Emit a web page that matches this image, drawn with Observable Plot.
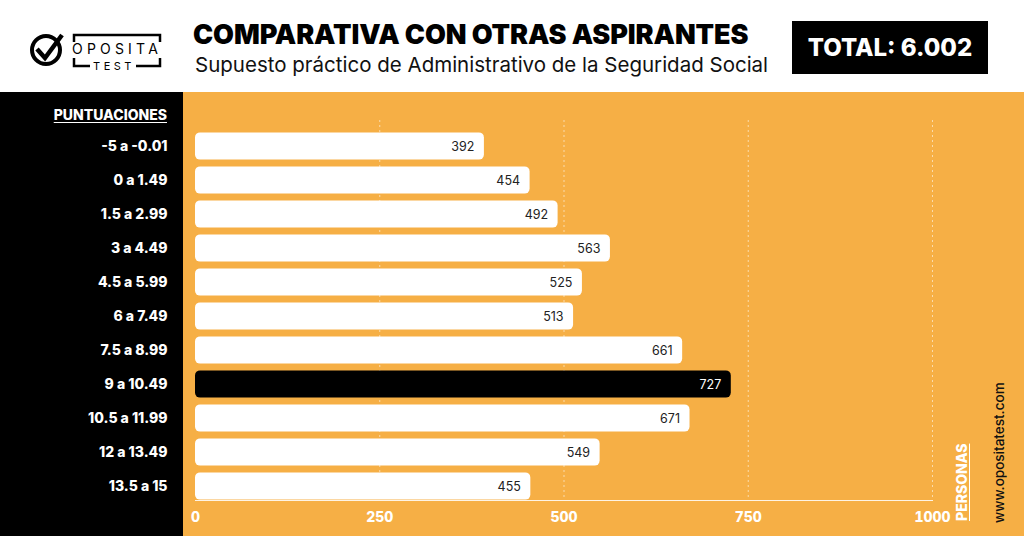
<!DOCTYPE html>
<html><head><meta charset="utf-8">
<script src="https://cdn.jsdelivr.net/npm/d3@7"></script>
<script src="https://cdn.jsdelivr.net/npm/@observablehq/plot@0.6"></script>
<style>
body{margin:0;width:1024px;height:536px;overflow:hidden;font-family:Inter,"Open Sans",sans-serif;background:#fff}
#header{position:relative;height:92px;background:#fff}
#title{position:absolute;left:193px;top:21px;font-size:27px;font-weight:900;line-height:1;color:#000;white-space:nowrap;letter-spacing:-0.1px}
#subtitle{position:absolute;left:195px;top:55px;font-size:20.5px;font-weight:400;line-height:1;color:#111;white-space:nowrap}
#total{position:absolute;left:792px;top:21px;width:196px;height:53px;background:#000;color:#fff;font-size:24px;font-weight:800;display:flex;align-items:center;justify-content:center;white-space:nowrap}
#logo{position:absolute;left:28px;top:30px}
#chartwrap{position:relative;height:444px;background:linear-gradient(to right,#000 0,#000 183px,#F6AF45 183px)}
#chartwrap svg{position:absolute;left:0;top:0}
#punt{position:absolute;right:calc(1024px - 167px);top:16px;color:#fff;font-size:14px;font-weight:800;text-decoration:underline;text-underline-offset:2px;line-height:1}
.vert{position:absolute;transform-origin:0 0;transform:rotate(-90deg);white-space:nowrap;line-height:1}
#personas{left:955px;top:429px;color:#fff;font-size:14px;font-weight:800;text-decoration:underline;text-underline-offset:2px}
#web{left:993px;top:431px;color:#111;font-size:13.5px;font-weight:500}
</style></head>
<body>
<div id="header">
  <svg id="logo" width="140" height="45" viewBox="0 0 140 45">
    <circle cx="18" cy="20" r="14" fill="none" stroke="#000" stroke-width="4"/>
    <path d="M9 19 L17 28 L34 5" fill="none" stroke="#000" stroke-width="4.5" stroke-linejoin="miter"/>
    <path d="M46 12 V5 H132 V12" fill="none" stroke="#000" stroke-width="2.5"/>
    <path d="M46 28 V36 H62" fill="none" stroke="#000" stroke-width="2.5"/>
    <path d="M108 36 H132 V28" fill="none" stroke="#000" stroke-width="2.5"/>
    <text x="89" y="24" text-anchor="middle" font-family="Inter" font-size="14" letter-spacing="4.2" fill="#000">OPOSITA</text>
    <text x="86" y="40" text-anchor="middle" font-family="Inter" font-size="11" letter-spacing="3.5" fill="#000">TEST</text>
  </svg>
  <div id="title">COMPARATIVA CON OTRAS ASPIRANTES</div>
  <div id="subtitle">Supuesto práctico de Administrativo de la Seguridad Social</div>
  <div id="total">TOTAL: 6.002</div>
</div>
<div id="chartwrap">
  <div id="punt">PUNTUACIONES</div>
  <div id="personas" class="vert">PERSONAS</div>
  <div id="web" class="vert">www.opositatest.com</div>
</div>
<script>
const categories = ["-5 a -0.01","0 a 1.49","1.5 a 2.99","3 a 4.49","4.5 a 5.99","6 a 7.49","7.5 a 8.99","9 a 10.49","10.5 a 11.99","12 a 13.49","13.5 a 15"];
const personas = [392,454,492,563,525,513,661,727,671,549,455];
const highlight = "9 a 10.49";
const xTicks = [0,250,500,750,1000];
const gridTicks = [250,500,750,1000];

const data = categories.map((c,i)=>({c, v: personas[i]}));

const chart = Plot.plot({
  width:1024, height:444,
  marginLeft:195, marginRight:92, marginTop:28, marginBottom:36,
  style:{background:"transparent", fontFamily:"Inter, sans-serif", overflow:"visible"},
  x:{domain:[0,1000], axis:null, label:null},
  y:{domain:categories, range:[36.6,410.6], padding:0, axis:null, label:null},
  color:{type:"identity"},
  marks:[
    Plot.gridX(gridTicks,{stroke:"#fff", strokeOpacity:0.55, strokeDasharray:"2,3"}),
    Plot.barX(data,{x:"v", y:"c", fill:d=>d.c===highlight?"#000":"#fff", rx:5, insetTop:3.4, insetBottom:3.4}),
    Plot.text(data,{x:"v", y:"c", text:d=>String(d.v), dx:-10, textAnchor:"end",
      fill:d=>d.c===highlight?"#fff":"#222", fontSize:12.5,
      fontWeight:d=>d.c===highlight?800:400}),
    Plot.axisY({tickSize:0, tickPadding:28, color:"#fff", fontSize:14, fontWeight:800, label:null}),
    Plot.axisX(xTicks,{tickSize:0, tickPadding:12, color:"#fff", fontSize:14, fontWeight:800, label:null, tickFormat:d=>String(d)}),
    Plot.frame({anchor:"bottom", stroke:"#fff", strokeOpacity:0.85})
  ]
});
document.getElementById("chartwrap").appendChild(chart);
</script>
</body></html>
